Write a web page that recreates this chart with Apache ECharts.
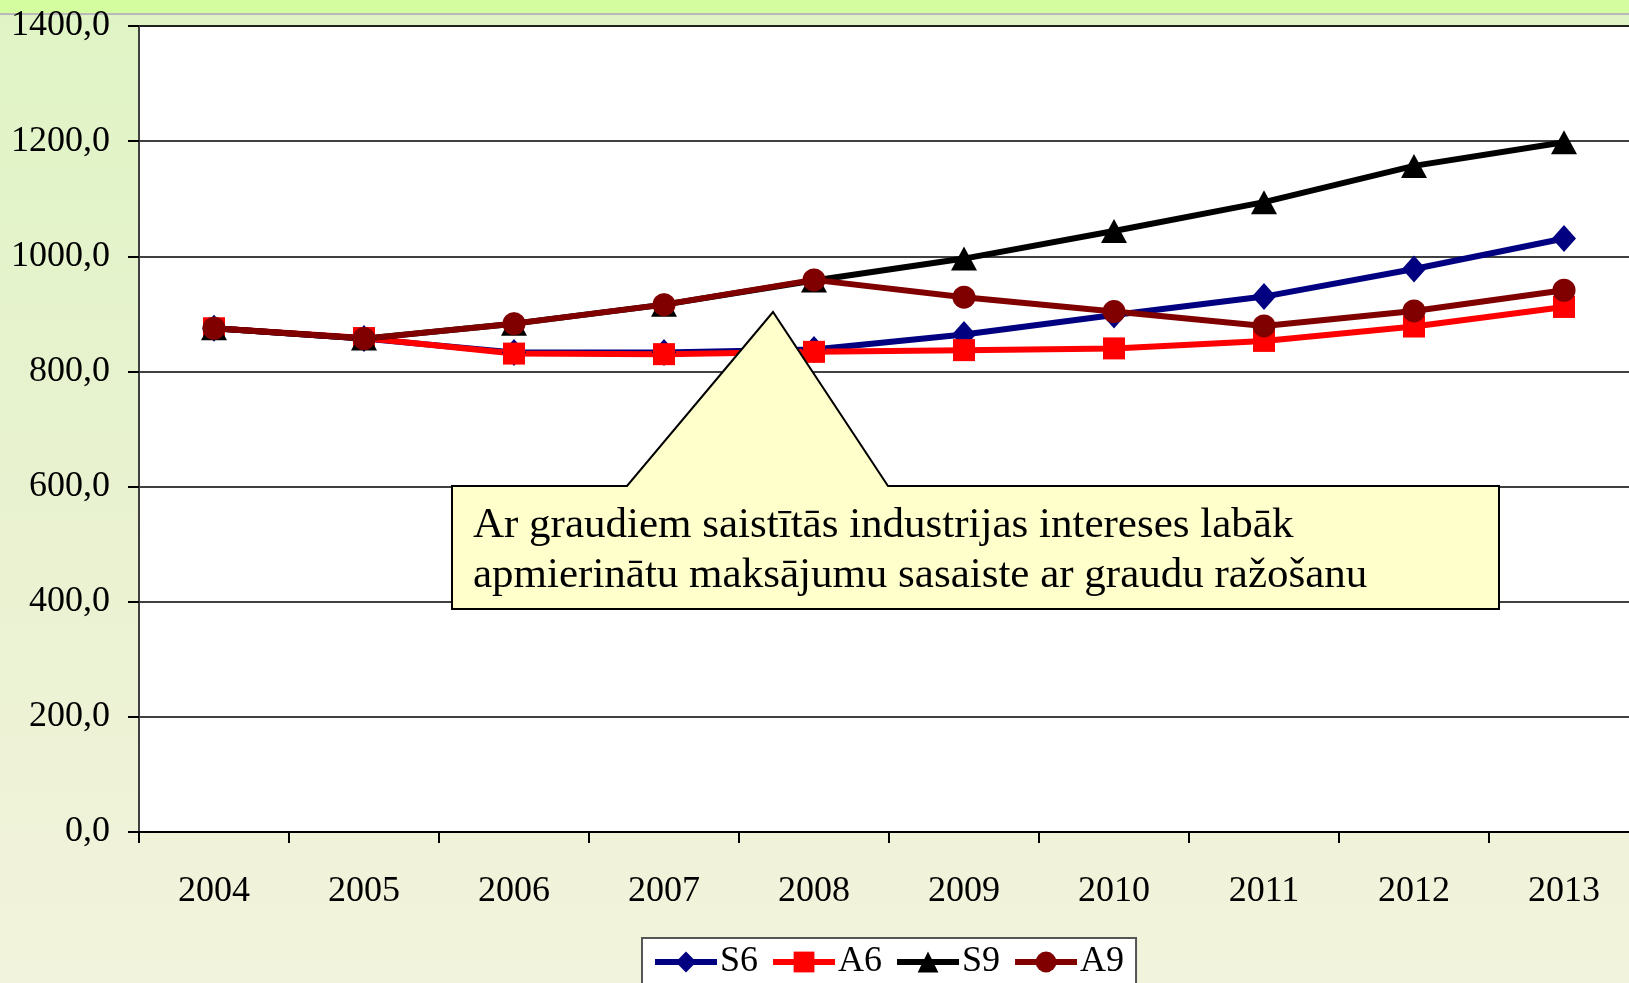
<!DOCTYPE html>
<html>
<head>
<meta charset="utf-8">
<script src="https://cdn.jsdelivr.net/npm/echarts@6/dist/echarts.min.js"></script>
<style>
  html, body { margin: 0; padding: 0; }
  #chart { width: 1629px; height: 983px; }
</style>
</head>
<body>
<div id="chart"></div>
<script>
// gadi
const years = ['2004', '2005', '2006', '2007', '2008', '2009', '2010', '2011', '2012', '2013'];

// sērijas
const s6 = [875, 857, 833, 833, 838, 864, 898, 930, 978, 1031];
const a6 = [875, 858, 831, 830, 834, 837, 840, 853, 878, 912];
const s9 = [875, 857, 883, 916, 958, 996, 1044, 1094, 1157, 1198];
const a9 = [875, 857, 883, 916, 959, 929, 904, 879, 905, 941];

const seriesNames = ['S6', 'A6', 'S9', 'A9'];
const seriesColors = ['#000080', '#ff0000', '#000000', '#800000'];
const calloutText = 'Ar graudiem saistītās industrijas intereses labāk\napmierinātu maksājumu sasaiste ar graudu ražošanu';

const FONT = '"Liberation Serif", "Times New Roman", serif';

const chartDom = document.getElementById('chart');
const myChart = echarts.init(chartDom);

function lineSeries(name, data, color, symbol, symbolSize) {
    return {
        name: name,
        type: 'line',
        data: data,
        symbol: symbol,
        symbolSize: symbolSize,
        showAllSymbol: true,
        animation: false,
        lineStyle: { color: color, width: 6 },
        itemStyle: { color: color, borderWidth: 0 }
    };
}

myChart.setOption({
    backgroundColor: {
        type: 'linear', x: 0, y: 0, x2: 0, y2: 1,
        colorStops: [
            { offset: 0, color: '#dff4c5' },
            { offset: 0.5, color: '#e9f2d0' },
            { offset: 1, color: '#f2f3dc' }
        ]
    },
    textStyle: { fontFamily: FONT },
    grid: {
        left: 139,
        top: 26,
        width: 1500,
        height: 806,
        containLabel: false,
        outerBoundsMode: 'none',
        show: true,
        backgroundColor: '#ffffff',
        borderColor: '#808080',
        borderWidth: 2
    },
    legend: {
        data: seriesNames.map((n, i) => ({
            name: n,
            lineStyle: { width: 6, color: seriesColors[i] }
        })),
        left: 642,
        top: 938,
        padding: [6, 12, 20, 10],
        itemWidth: 62,
        itemHeight: 26,
        itemGap: 12,
        backgroundColor: '#ffffff',
        borderColor: '#555555',
        borderWidth: 2,
        textStyle: { fontFamily: FONT, fontSize: 36, color: '#000', padding: [0, 0, 0, -2] }
    },
    xAxis: {
        type: 'category',
        data: years,
        boundaryGap: true,
        axisLine: { lineStyle: { color: '#000', width: 2 } },
        axisTick: { show: true, length: 11, lineStyle: { color: '#000', width: 2 } },
        axisLabel: { fontFamily: FONT, fontSize: 36, color: '#000', margin: 42 },
        splitLine: { show: false }
    },
    yAxis: {
        type: 'value',
        min: 0,
        max: 1400,
        interval: 200,
        axisLine: { show: true, lineStyle: { color: '#404040', width: 2 } },
        axisTick: { show: true, length: 11, lineStyle: { color: '#000', width: 2 } },
        axisLabel: {
            fontFamily: FONT, fontSize: 36, color: '#000', margin: 29,
            formatter: v => v.toFixed(1).replace('.', ',')
        },
        splitLine: { lineStyle: { color: '#000', width: 1.5 } }
    },
    series: [
        lineSeries('S6', s6, seriesColors[0], 'diamond', [24, 27]),
        lineSeries('A6', a6, seriesColors[1], 'rect', 22),
        lineSeries('S9', s9, seriesColors[2], 'triangle', [26, 24]),
        lineSeries('A9', a9, seriesColors[3], 'circle', 23)
    ],
    graphic: [
        // augšējā josla
        { type: 'rect', z: -10, shape: { x: 0, y: 0, width: 1629, height: 13 }, style: { fill: '#d4fd9f' } },
        { type: 'rect', z: -10, shape: { x: 0, y: 13, width: 1629, height: 2 }, style: { fill: '#b8b8b8' } },
        // izsaukuma forma
        {
            type: 'polygon',
            z: 100,
            shape: {
                points: [[452, 486], [627, 486], [773, 312], [888, 486], [1499, 486], [1499, 609], [452, 609]]
            },
            style: { fill: '#ffffcc', stroke: '#000', lineWidth: 2 }
        },
        {
            type: 'text',
            z: 101,
            left: 473,
            top: 501,
            style: {
                text: calloutText,
                font: '43px ' + FONT,
                fill: '#000',
                lineHeight: 50
            }
        }
    ]
});

window.onresize = function () {
    myChart.resize();
};
</script>
</body>
</html>
